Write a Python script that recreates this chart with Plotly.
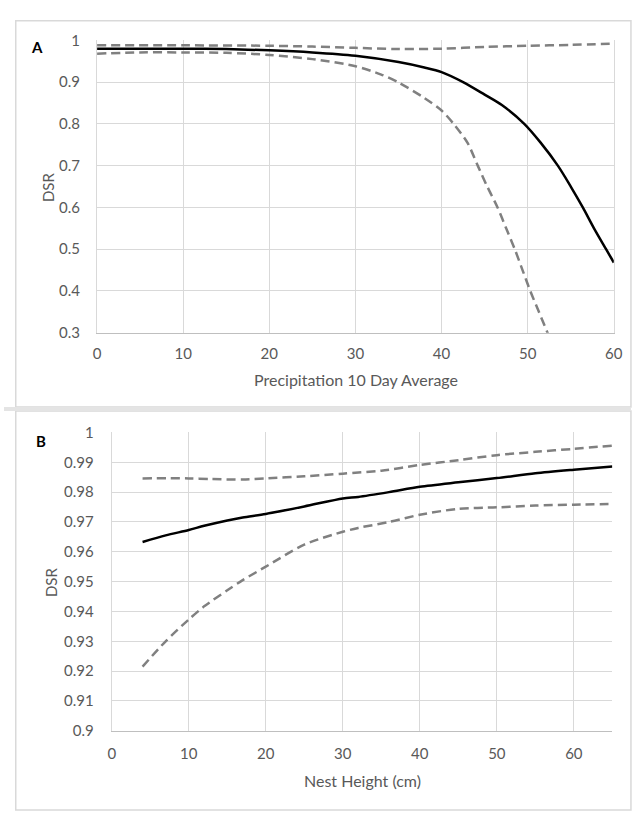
import plotly.graph_objects as go

W, H = 638, 816

# Panel A: Precipitation 10 Day Average
a_x_est = [0, 5, 10, 15, 20, 25, 30, 35, 38, 40, 42.5, 45, 47, 49.6, 51.5, 53.5, 55, 56.4, 57.7, 59.1, 60]
a_est = [0.980, 0.980, 0.980, 0.979, 0.976, 0.971, 0.963, 0.948, 0.935, 0.924, 0.900, 0.870, 0.845, 0.800, 0.755, 0.700, 0.650, 0.600, 0.550, 0.500, 0.468]
a_x_lo = [0, 5, 10, 15, 20, 25, 30, 33, 35, 38, 40, 41.4, 43, 44.2, 45.3, 46.5, 47.5, 48.5, 49.4, 50.3, 51.3, 52.3, 53.3]
a_lo = [0.968, 0.971, 0.971, 0.970, 0.965, 0.955, 0.938, 0.918, 0.899, 0.862, 0.832, 0.800, 0.755, 0.700, 0.650, 0.600, 0.550, 0.500, 0.450, 0.400, 0.350, 0.300, 0.250]
a_x_hi = [0, 10, 20, 25, 30, 35, 40, 45, 50, 55, 60]
a_hi = [0.988, 0.988, 0.987, 0.985, 0.982, 0.979, 0.980, 0.984, 0.987, 0.989, 0.992]

# Panel B: Nest Height (cm)
b_x = [4, 7, 10, 12, 15, 17, 20, 25, 30, 32, 36, 40, 45, 50, 55, 60, 65]
b_est = [0.9633, 0.9655, 0.9673, 0.9687, 0.9705, 0.9715, 0.9727, 0.9752, 0.9779, 0.9784, 0.9800, 0.9818, 0.9833, 0.9847, 0.9863, 0.9875, 0.9886]
b_lo = [0.9215, 0.9300, 0.9373, 0.9417, 0.9471, 0.9505, 0.9550, 0.9624, 0.9667, 0.9680, 0.9700, 0.9724, 0.9744, 0.9749, 0.9755, 0.9758, 0.9760]
b_x_hi = [4, 10, 13, 17, 20, 25, 30, 35, 40, 45, 50, 55, 60, 65]
b_hi = [0.9846, 0.9846, 0.9844, 0.9842, 0.9846, 0.9853, 0.9862, 0.9872, 0.9891, 0.9907, 0.9924, 0.9935, 0.9945, 0.9956]

a_xticks = [0, 10, 20, 30, 40, 50, 60]
a_yticks = [0.3, 0.4, 0.5, 0.6, 0.7, 0.8, 0.9, 1]
a_ylabels = ["0.3", "0.4", "0.5", "0.6", "0.7", "0.8", "0.9", "1"]
b_xticks = [0, 10, 20, 30, 40, 50, 60]
b_yticks = [0.9, 0.91, 0.92, 0.93, 0.94, 0.95, 0.96, 0.97, 0.98, 0.99, 1]
b_ylabels = ["0.9", "0.91", "0.92", "0.93", "0.94", "0.95", "0.96", "0.97", "0.98", "0.99", "1"]

FONT = "Lato"
TICKC = "#595959"
GRID = "#d9d9d9"
DASH = "9px,5px"
GRAYL = "#808080"

def px(x):
    return x / W

def py(y):
    return 1 - y / H

fig = go.Figure()

solid = dict(color="black", width=2.5, smoothing=0.8)
dashed = dict(color=GRAYL, width=2.5, dash=DASH, smoothing=0.8)

fig.add_trace(go.Scatter(x=a_x_hi, y=a_hi, mode="lines", line=dashed, xaxis="x", yaxis="y", line_shape="spline"))
fig.add_trace(go.Scatter(x=a_x_lo, y=a_lo, mode="lines", line=dashed, xaxis="x", yaxis="y", line_shape="spline"))
fig.add_trace(go.Scatter(x=a_x_est, y=a_est, mode="lines", line=solid, xaxis="x", yaxis="y", line_shape="spline"))

fig.add_trace(go.Scatter(x=b_x_hi, y=b_hi, mode="lines", line=dashed, xaxis="x2", yaxis="y2", line_shape="spline"))
fig.add_trace(go.Scatter(x=b_x, y=b_lo, mode="lines", line=dashed, xaxis="x2", yaxis="y2", line_shape="spline"))
fig.add_trace(go.Scatter(x=b_x, y=b_est, mode="lines", line=solid, xaxis="x2", yaxis="y2", line_shape="spline"))

tickfont = dict(family=FONT, size=15, color=TICKC)

fig.update_layout(
    width=W, height=H,
    margin=dict(l=0, r=0, t=0, b=0),
    paper_bgcolor="white", plot_bgcolor="white",
    showlegend=False,
    xaxis=dict(domain=[px(95), px(622.5)], range=[0, 60], tickvals=a_xticks,
               showgrid=True, gridcolor=GRID, gridwidth=1, zeroline=False,
               showline=True, linecolor="#bfbfbf", linewidth=1.2,
               ticks="", tickfont=tickfont, ticklabelstandoff=7, anchor="y"),
    yaxis=dict(domain=[py(330), py(31)], range=[0.3, 1], tickvals=a_yticks, ticktext=a_ylabels,
               showgrid=True, gridcolor=GRID, gridwidth=1, zeroline=False,
               showline=True, mirror=True, linecolor=GRID, linewidth=1,
               ticks="", tickfont=tickfont, ticklabelstandoff=13, anchor="x"),
    xaxis2=dict(domain=[px(110), px(621)], range=[0, 65], tickvals=b_xticks,
                showgrid=True, gridcolor=GRID, gridwidth=1, zeroline=False,
                showline=True, linecolor="#bfbfbf", linewidth=1.2,
                ticks="", tickfont=tickfont, ticklabelstandoff=9, anchor="y2"),
    yaxis2=dict(domain=[py(737), py(432)], range=[0.9, 1], tickvals=b_yticks, ticktext=b_ylabels,
                showgrid=True, gridcolor=GRID, gridwidth=1, zeroline=False,
                showline=True, linecolor=GRID, linewidth=1,
                ticks="", tickfont=tickfont, ticklabelstandoff=14, anchor="x2"),
)

# panel frames and separator
fig.add_shape(type="rect", xref="paper", yref="paper", x0=px(12), x1=px(640), y0=py(406), y1=py(11),
              line=dict(color=GRID, width=1.5), layer="below")
fig.add_shape(type="rect", xref="paper", yref="paper", x0=px(12), x1=px(640), y0=py(818), y1=py(410),
              line=dict(color=GRID, width=1.5), layer="below")
fig.add_shape(type="rect", xref="paper", yref="paper", x0=px(0), x1=px(640), y0=py(410), y1=py(406),
              fillcolor="#e4e4e4", line=dict(width=0), layer="below")

ann = [
    dict(text="<b>A</b>", x=px(34), y=py(38), font=dict(family=FONT, size=15, color="black")),
    dict(text="<b>B</b>", x=px(38), y=py(441), font=dict(family=FONT, size=15, color="black")),
    dict(text="DSR", x=px(45), y=py(181), textangle=-90, font=dict(family=FONT, size=15, color=TICKC)),
    dict(text="DSR", x=px(48), y=py(585), textangle=-90, font=dict(family=FONT, size=15, color=TICKC)),
    dict(text="Precipitation 10 Day Average", x=px(359), y=py(378), font=dict(family=FONT, size=16, color=TICKC)),
    dict(text="Nest Height (cm)", x=px(366), y=py(788), font=dict(family=FONT, size=16, color=TICKC)),
]
for a in ann:
    fig.add_annotation(xref="paper", yref="paper", showarrow=False, xanchor="center", yanchor="middle", **a)

fig.write_html("out.html", config={"displayModeBar": False},
               post_script="document.body.style.margin='0';document.body.style.overflow='hidden';")
